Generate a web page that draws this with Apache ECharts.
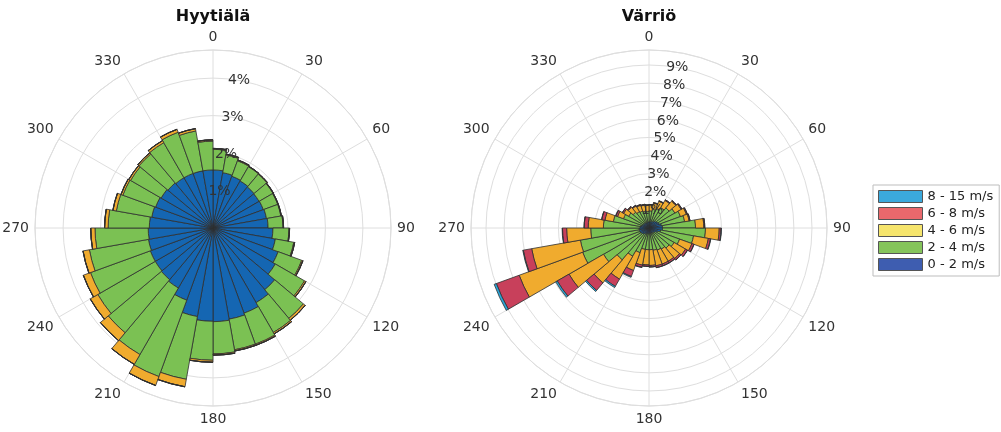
<!DOCTYPE html>
<html>
<head>
<meta charset="utf-8">
<script src="https://cdn.jsdelivr.net/npm/echarts@6/dist/echarts.min.js"></script>
<style>
  html, body { margin: 0; padding: 0; background: #fff; }
  #chart { width: 1001px; height: 432px; }
</style>
</head>
<body>
<div id="chart"></div>
<script>
// 10 degree direction bins (start angle of each bin)
const directions = [];
for (let d = 0; d < 360; d += 10) directions.push(String(d));

const speedClasses = ['0 - 2 m/s', '2 - 4 m/s', '4 - 6 m/s', '6 - 8 m/s', '8 - 15 m/s'];
const barColors = ['#1566b2', '#7bc153', '#f0ab2e', '#c8405b', '#2aa8dd'];
const legendOrder = ['8 - 15 m/s', '6 - 8 m/s', '4 - 6 m/s', '2 - 4 m/s', '0 - 2 m/s'];
const legendColors = ['#3ba9dc', '#e9686c', '#f6e56d', '#85c45b', '#3e5db0'];

const angleTicks = [0, 30, 60, 90, 120, 150, 180, 210, 240, 270, 300, 330];

// Hyytiälä, frequency (%) per speed class
const hyy0_2 = [1.55, 1.50, 1.47, 1.45, 1.43, 1.42, 1.43, 1.45, 1.47, 1.60, 1.69, 1.85,
                1.92, 2.15, 2.30, 2.42, 2.47, 2.50, 2.49, 2.40, 2.05, 1.85, 1.80, 1.78,
                1.78, 1.75, 1.73, 1.70, 1.66, 1.63, 1.60, 1.57, 1.55, 1.55, 1.55, 1.55];
const hyy2_4 = [0.55, 0.48, 0.44, 0.44, 0.45, 0.43, 0.41, 0.39, 0.40, 0.43, 0.50, 0.67,
                0.90, 1.00, 0.92, 0.88, 0.83, 0.86, 1.04, 1.70, 2.17, 2.05, 1.85, 1.77,
                1.70, 1.60, 1.42, 1.10, 0.96, 0.93, 0.94, 1.01, 1.08, 1.17, 1.08, 0.77];
const hyy4_6 = [0.02, 0.02, 0.02, 0.01, 0.01, 0.01, 0.01, 0.01, 0.01, 0.01, 0.02, 0.03,
                0.04, 0.06, 0.04, 0.03, 0.03, 0.03, 0.05, 0.20, 0.25, 0.30, 0.27, 0.23,
                0.20, 0.17, 0.11, 0.09, 0.09, 0.05, 0.05, 0.04, 0.06, 0.08, 0.06, 0.03];
const hyy6_8 = [0.005, 0.005, 0.005, 0.005, 0.005, 0.005, 0.005, 0.005, 0.005, 0.005, 0.005, 0.005,
                0.005, 0.005, 0.005, 0.005, 0.005, 0.005, 0.005, 0.005, 0.005, 0.005, 0.005, 0.005,
                0.005, 0.005, 0.005, 0.005, 0.005, 0.005, 0.005, 0.005, 0.005, 0.005, 0.005, 0.005];
const hyy8_15 = [0, 0, 0, 0, 0, 0, 0, 0, 0, 0, 0, 0, 0, 0, 0, 0, 0, 0,
                 0, 0, 0, 0, 0, 0, 0, 0, 0, 0, 0, 0, 0, 0, 0, 0, 0, 0];

// Värriö, frequency (%) per speed class
const var0_2 = [0.35, 0.37, 0.40, 0.45, 0.50, 0.55, 0.60, 0.70, 0.75, 0.75, 0.65, 0.50,
                0.40, 0.35, 0.33, 0.32, 0.32, 0.32, 0.32, 0.33, 0.35, 0.40, 0.45, 0.50,
                0.55, 0.55, 0.55, 0.50, 0.45, 0.40, 0.37, 0.35, 0.34, 0.33, 0.33, 0.34];
const var2_4 = [0.60, 0.68, 0.75, 0.85, 0.95, 1.10, 1.25, 1.30, 1.82, 2.37, 1.85, 1.30,
                1.20, 1.10, 1.02, 0.98, 0.93, 0.88, 0.88, 0.87, 1.10, 1.40, 1.85, 2.40,
                3.35, 3.30, 2.67, 2.02, 1.55, 1.10, 0.93, 0.80, 0.71, 0.67, 0.62, 0.58];
const var4_6 = [0.32, 0.34, 0.42, 0.46, 0.49, 0.40, 0.35, 0.25, 0.46, 0.76, 0.83, 0.72,
                0.73, 0.75, 0.77, 0.82, 0.87, 0.87, 0.84, 0.88, 1.05, 1.46, 1.66, 2.20,
                3.73, 2.73, 1.33, 0.84, 0.47, 0.35, 0.32, 0.35, 0.36, 0.34, 0.34, 0.33];
const var6_8 = [0.03, 0.03, 0.03, 0.04, 0.04, 0.05, 0.05, 0.05, 0.05, 0.10, 0.12, 0.12,
                0.12, 0.10, 0.10, 0.10, 0.10, 0.08, 0.08, 0.12, 0.35, 0.46, 0.54, 0.75,
                1.34, 0.47, 0.23, 0.22, 0.18, 0.10, 0.08, 0.05, 0.04, 0.04, 0.04, 0.03];
const var8_15 = [0, 0, 0, 0, 0, 0, 0, 0, 0, 0.02, 0.02, 0.01,
                 0.01, 0.01, 0.01, 0.01, 0.01, 0.01, 0.01, 0.02, 0.05, 0.08, 0.08, 0.10,
                 0.13, 0.03, 0.02, 0.01, 0.01, 0.01, 0, 0, 0, 0, 0, 0];

const hyyData = [hyy0_2, hyy2_4, hyy4_6, hyy6_8, hyy8_15];
const varData = [var0_2, var2_4, var4_6, var6_8, var8_15];

const font = 'DejaVu Sans';
const gridColor = '#dedede';
const plots = [
  { title: 'Hyytiälä', center: [213, 228], max: 4.75, data: hyyData },
  { title: 'Värriö', center: [649, 228], max: 9.83, data: varData }
];
const R = 178;

const polar = [];
const angleAxis = [];
const radiusAxis = [];
const series = [];
const graphic = [];

plots.forEach((p, k) => {
  const base = k * 3;
  // 0: bars, 1: grid + angle labels, 2: radial labels
  for (let j = 0; j < 3; j++) polar.push({ center: p.center, radius: R });

  angleAxis.push({
    polarIndex: base, type: 'category', data: directions,
    startAngle: 90, clockwise: true, boundaryGap: true,
    axisLine: { show: false }, axisTick: { show: false },
    axisLabel: { show: false }, splitLine: { show: false }
  });
  radiusAxis.push({
    polarIndex: base, type: 'value', min: 0, max: p.max,
    axisLine: { show: false }, axisTick: { show: false },
    axisLabel: { show: false }, splitLine: { show: false }
  });

  angleAxis.push({
    polarIndex: base + 1, type: 'value', min: 0, max: 360, interval: 30,
    startAngle: 90, clockwise: true,
    axisLine: { show: true, lineStyle: { color: gridColor, width: 1 } },
    axisTick: { show: false },
    axisLabel: {
      color: '#333', fontSize: 14, fontFamily: font, margin: 6,
      formatter: v => (angleTicks.indexOf(v) >= 0 ? String(v) : '')
    },
    splitLine: { show: true, lineStyle: { color: gridColor, width: 1 } }
  });
  radiusAxis.push({
    polarIndex: base + 1, type: 'value', min: 0, max: p.max, interval: 1,
    axisLine: { show: false }, axisTick: { show: false },
    axisLabel: { show: false },
    splitLine: { show: true, lineStyle: { color: gridColor, width: 1 } }
  });

  angleAxis.push({
    polarIndex: base + 2, type: 'value', min: 0, max: 360,
    startAngle: 80, clockwise: true,
    axisLine: { show: false }, axisTick: { show: false },
    axisLabel: { show: false }, splitLine: { show: false }
  });
  radiusAxis.push({
    polarIndex: base + 2, type: 'value', min: 0, max: p.max, interval: 1, z: 10,
    axisLine: { show: false }, axisTick: { show: false }, splitLine: { show: false },
    axisLabel: {
      color: '#333', fontSize: 14, fontFamily: font, margin: 0,
      align: 'center', verticalAlign: 'middle',
      formatter: v => (v > 0 && v === Math.round(v) ? v + '%' : '')
    }
  });

  p.data.forEach((vals, i) => {
    series.push({
      type: 'bar', coordinateSystem: 'polar', polarIndex: base,
      name: speedClasses[i], stack: 'rose' + k, data: vals,
      barCategoryGap: '0%', barGap: '0%',
      itemStyle: { color: barColors[i], borderColor: '#2e2e2e', borderWidth: 0.8 },
      emphasis: { disabled: true }, silent: true
    });
  });

  graphic.push({
    type: 'text', x: p.center[0], y: 17, silent: true,
    style: {
      text: p.title, fill: '#111', font: 'bold 16px "DejaVu Sans"',
      textAlign: 'center', textVerticalAlign: 'middle'
    }
  });
});

const chart = echarts.init(document.getElementById('chart'));
chart.setOption({
  animation: false,
  backgroundColor: '#fff',
  textStyle: { fontFamily: font },
  polar, angleAxis, radiusAxis, series, graphic,
  legend: {
    orient: 'vertical', left: 873, top: 185,
    itemWidth: 44, itemHeight: 12, itemGap: 4,
    padding: [5, 6, 5, 5],
    borderColor: '#bdbdbd', borderWidth: 1, backgroundColor: '#fff',
    selectedMode: false,
    textStyle: { fontSize: 13, color: '#222', fontFamily: font },
    data: legendOrder.map((n, i) => ({
      name: n, icon: 'rect',
      itemStyle: { color: legendColors[i], borderColor: '#555', borderWidth: 1 }
    }))
  }
});
</script>
</body>
</html>
